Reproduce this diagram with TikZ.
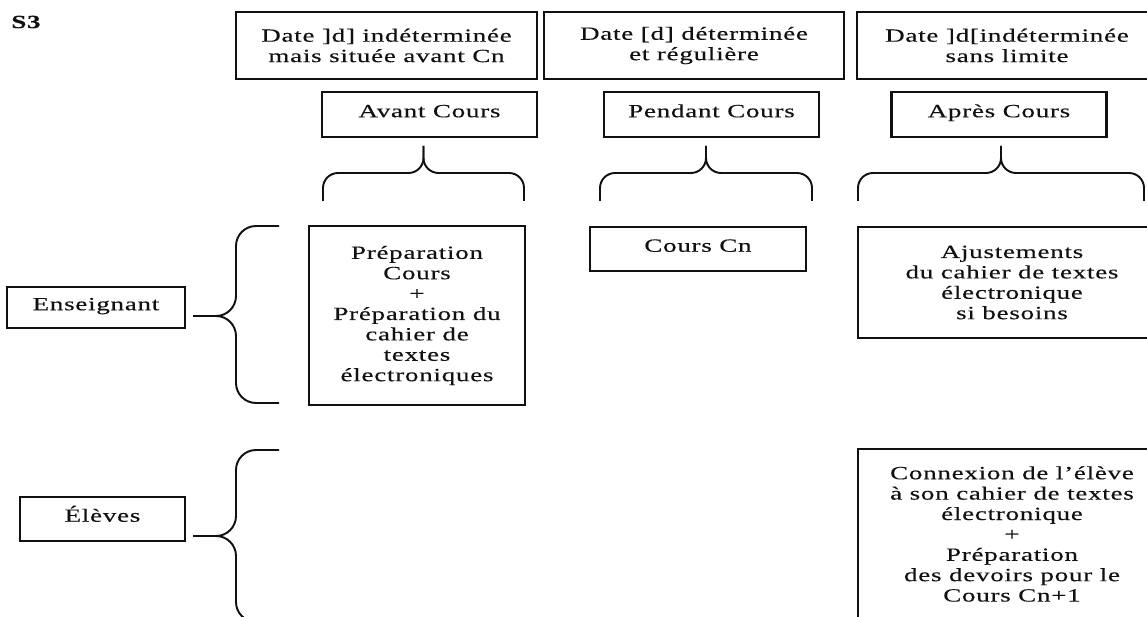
\documentclass[tikz,border=0pt]{standalone}
\usepackage{fontspec}
\setmainfont{Liberation Serif}[FakeStretch=1.45, LetterSpace=4, FakeBold=0.3]
\definecolor{ink}{HTML}{111111}

\begin{document}
\begin{tikzpicture}[
  box/.style={draw=ink, line width=1.5pt, align=center, inner sep=2pt,
    text=ink, font=\fontsize{10.6}{11.6}\selectfont},
  oneline/.style={text height=0.26cm, text depth=0.15cm},
  brc/.style={draw=ink, line width=1.1pt, rounded corners=0.3cm}
]

% Page frame
\path[use as bounding box] (0,0) rectangle (22.94,12.32);
\clip (0,0) rectangle (22.94,12.32);

\node[text=ink, font=\fontsize{10.6}{11.6}\selectfont\bfseries] (s3) at (0.52,11.88) {S3};

%% Top row: dates
\node[box, minimum width=6.02cm, minimum height=1.34cm] (date1) at (7.73,11.41)
  {Date ]d] indéterminée\\mais située avant Cn};
\node[box, minimum width=6.0cm, minimum height=1.34cm] (date2) at (13.88,11.41)
  {Date [d] déterminée\\et régulière};
\node[box, minimum width=6.0cm, minimum height=1.34cm] (date3) at (20.14,11.41)
  {Date ]d[indéterminée\\sans limite};

%% Phases
\node[box, oneline, minimum width=4.3cm, minimum height=0.9cm] (avant) at (8.59,10.03) {Avant Cours};
\node[box, oneline, minimum width=4.3cm, minimum height=0.9cm] (pendant) at (14.23,10.03) {Pendant Cours};
\node[box, oneline, minimum width=4.3cm, minimum height=0.9cm] (apres) at (19.98,10.03) {Après Cours};

% Braces under the phases
\foreach \xa/\xt/\xb in {6.46/8.47/10.48, 12.0/14.12/16.24, 17.16/20.02/22.88} {
  \draw[brc] (\xa,8.3) |- (\xt,8.86) -- (\xt,9.4);
  \draw[brc] (\xb,8.3) |- (\xt,8.86) -- (\xt,9.4);
}

%% Enseignant
\node[box, oneline, minimum width=3.56cm, minimum height=0.82cm] (ens) at (1.92,6.17) {Enseignant};
\draw[brc, rounded corners=0.4cm] (5.58,7.8) -| (4.72,6.0) -- (3.86,6.0);
\draw[brc, rounded corners=0.4cm] (5.58,4.26) -| (4.72,6.0) -- (3.86,6.0);

\node[box, minimum width=4.32cm, minimum height=3.58cm] (prep) at (8.34,6.01)
  {Préparation\\Cours\\+\\Préparation du\\cahier de\\textes\\électroniques};
\node[box, oneline, minimum width=4.32cm, minimum height=0.88cm] (cours) at (13.96,7.34) {Cours Cn};
\node[box, minimum width=6.16cm, minimum height=2.22cm] (ajust) at (20.24,6.67)
  {Ajustements\\du cahier de textes\\électronique\\si besoins};

%% Eleves
\node[box, oneline, minimum width=3.3cm, minimum height=0.88cm] (eleves) at (2.05,1.94) {Élèves};
\draw[brc, rounded corners=0.4cm] (5.58,3.32) -| (4.72,1.6) -- (3.86,1.6);
\draw[brc, rounded corners=0.4cm] (5.58,-0.12) -| (4.72,1.6) -- (3.86,1.6);

\node[box, minimum width=6.16cm, minimum height=3.4cm] (connexion) at (20.24,1.64)
  {Connexion de l’élève\\à son cahier de textes\\électronique\\+\\Préparation\\des devoirs pour le\\Cours Cn+1};

\end{tikzpicture}
\end{document}
